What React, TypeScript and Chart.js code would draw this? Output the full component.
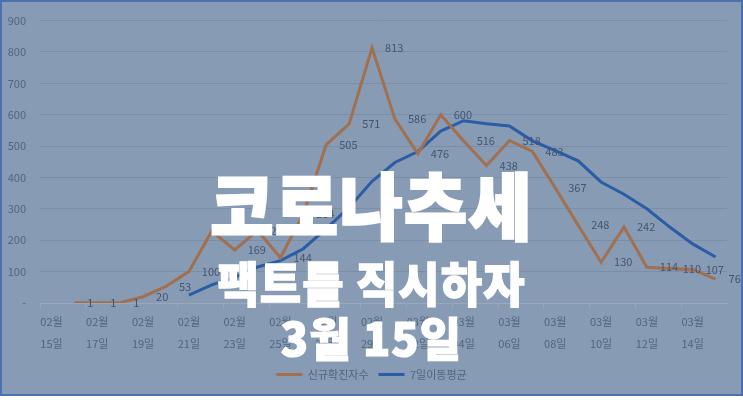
import { useEffect, useRef } from "react";
import { Chart, registerables } from "chart.js";

Chart.register(...registerables);

const dates = [
  "02월 15일", "02월 16일", "02월 17일", "02월 18일", "02월 19일", "02월 20일",
  "02월 21일", "02월 22일", "02월 23일", "02월 24일", "02월 25일", "02월 26일",
  "02월 27일", "02월 28일", "02월 29일", "03월 01일", "03월 02일", "03월 03일",
  "03월 04일", "03월 05일", "03월 06일", "03월 07일", "03월 08일", "03월 09일",
  "03월 10일", "03월 11일", "03월 12일", "03월 13일", "03월 14일", "03월 15일",
];

const newCases = [
  null, 1, 1, 1, 20, 53, 100, 229, 169, 231, 144, 284, 505, 571, 813,
  586, 476, 600, 516, 438, 518, 483, 367, 248, 130, 242, 114, 110, 107, 76,
];

const movingAvg = [
  null, null, null, null, null, null, 25.1, 57.9, 81.9, 114.7, 135.1, 172.9,
  237.4, 304.7, 388.1, 447.7, 482.7, 547.9, 581.0, 571.4, 563.9, 516.7, 485.4,
  452.9, 385.7, 346.6, 300.3, 242.0, 188.3, 146.7,
];

const seriesNames = ["신규확진자수", "7일이동평균"];
const titleLines = ["코로나추세", "팩트를 직시하자", "3월 15일"];
const yMin = 0;
const yMax = 900;
const yStep = 100;

const FONT = "'Noto Sans CJK KR', 'Noto Sans', sans-serif";
const BG = "#889bb4";
const GRID = "#7a8ea9";
const TICK_TEXT = "#52657f";
const LABEL_TEXT = "#435571";
const BROWN = "#a26f4f";
const BLUE = "#2b5ca6";

const dataLabels = {
  id: "dataLabels",
  afterDatasetsDraw(chart: any) {
    const ctx = chart.ctx;
    const meta = chart.getDatasetMeta(0);
    const ds = chart.data.datasets[0];
    ctx.save();
    ctx.font = `11px ${FONT}`;
    ctx.fillStyle = LABEL_TEXT;
    ctx.textAlign = "left";
    ctx.textBaseline = "middle";
    meta.data.forEach((pt: any, i: number) => {
      const v = ds.data[i];
      if (v === null || v === undefined) return;
      ctx.fillText(String(v), pt.x + 13, pt.y);
    });
    ctx.restore();
  },
};

export default function App() {
  const ref = useRef<HTMLCanvasElement | null>(null);

  useEffect(() => {
    document.body.style.margin = "0";
    const canvas = ref.current;
    if (!canvas) return;
    const chart = new Chart(canvas, {
      type: "line",
      data: {
        labels: dates,
        datasets: [
          {
            label: seriesNames[0],
            data: newCases,
            borderColor: BROWN,
            backgroundColor: BROWN,
            borderWidth: 3,
            pointRadius: 0,
            tension: 0,
          },
          {
            label: seriesNames[1],
            data: movingAvg,
            borderColor: BLUE,
            backgroundColor: BLUE,
            borderWidth: 3,
            pointRadius: 0,
            tension: 0,
          },
        ],
      },
      options: {
        responsive: false,
        animation: false,
        devicePixelRatio: 1,
        layout: { padding: { top: 13, left: 8, right: 8, bottom: 12 } },
        plugins: {
          legend: {
            position: "bottom",
            labels: {
              usePointStyle: true,
              pointStyle: "line",
              pointStyleWidth: 26,
              color: TICK_TEXT,
              font: { family: FONT, size: 11 },
              padding: 10,
            },
          },
          tooltip: { enabled: false },
        },
        scales: {
          x: {
            offset: true,
            grid: {
              offset: true,
              drawOnChartArea: false,
              drawTicks: true,
              tickLength: 5,
              color: (c: any) => (c.index % 2 === 0 ? "#9ba8ba" : "rgba(0,0,0,0)"),
            },
            border: { display: true, color: "#9ba8ba", width: 1 },
            ticks: {
              autoSkip: false,
              maxRotation: 0,
              minRotation: 0,
              padding: 3,
              color: TICK_TEXT,
              font: { family: FONT, size: 11, lineHeight: 2 },
              callback: (_v: any, i: number) => (i % 2 === 0 ? dates[i].split(" ") : ""),
            },
            afterFit: (s: any) => {
              s.height = 56;
            },
          },
          y: {
            min: yMin,
            max: yMax,
            grid: { color: GRID, drawTicks: false, lineWidth: 1 },
            border: { display: false },
            ticks: {
              stepSize: yStep,
              padding: 14,
              color: TICK_TEXT,
              font: { family: FONT, size: 11 },
              callback: (v: any) => (Number(v) === 0 ? "-" : String(v)),
            },
            afterFit: (s: any) => {
              s.width = 32;
            },
          },
          y2: {
            position: "right",
            display: true,
            grid: { display: false },
            border: { display: false },
            ticks: { display: false },
            afterFit: (s: any) => {
              s.width = 8;
            },
          },
        },
      },
      plugins: [dataLabels],
    } as any);
    return () => chart.destroy();
  }, []);

  const textBase: React.CSSProperties = {
    position: "absolute",
    left: 0,
    width: 743,
    textAlign: "center",
    color: "#ffffff",
    fontFamily: FONT,
    fontWeight: 900,
    lineHeight: 1,
    transformOrigin: "top center",
    whiteSpace: "nowrap",
    pointerEvents: "none",
  };

  return (
    <div style={{ position: "relative", width: 743, height: 402, background: "#ffffff", overflow: "hidden" }}>
      <div
        style={{
          position: "absolute",
          left: 0,
          top: 0,
          width: 743,
          height: 396,
          boxSizing: "border-box",
          background: BG,
          border: "2px solid #4a72b0",
        }}
      />
      <canvas ref={ref} width={743} height={402} style={{ position: "absolute", left: 0, top: 0 }} />
      <div style={{ ...textBase, top: 166, fontSize: 69, letterSpacing: 1, transform: "scaleY(1.06)", WebkitTextStroke: "2px #ffffff" }}>{titleLines[0]}</div>
      <div style={{ ...textBase, top: 257, fontSize: 45, letterSpacing: 1, transform: "scaleY(1.06)", WebkitTextStroke: "1.2px #ffffff" }}>{titleLines[1]}</div>
      <div style={{ ...textBase, top: 313, fontSize: 45, letterSpacing: 1, transform: "scaleY(1.02)", WebkitTextStroke: "1.2px #ffffff" }}>{titleLines[2]}</div>
    </div>
  );
}
